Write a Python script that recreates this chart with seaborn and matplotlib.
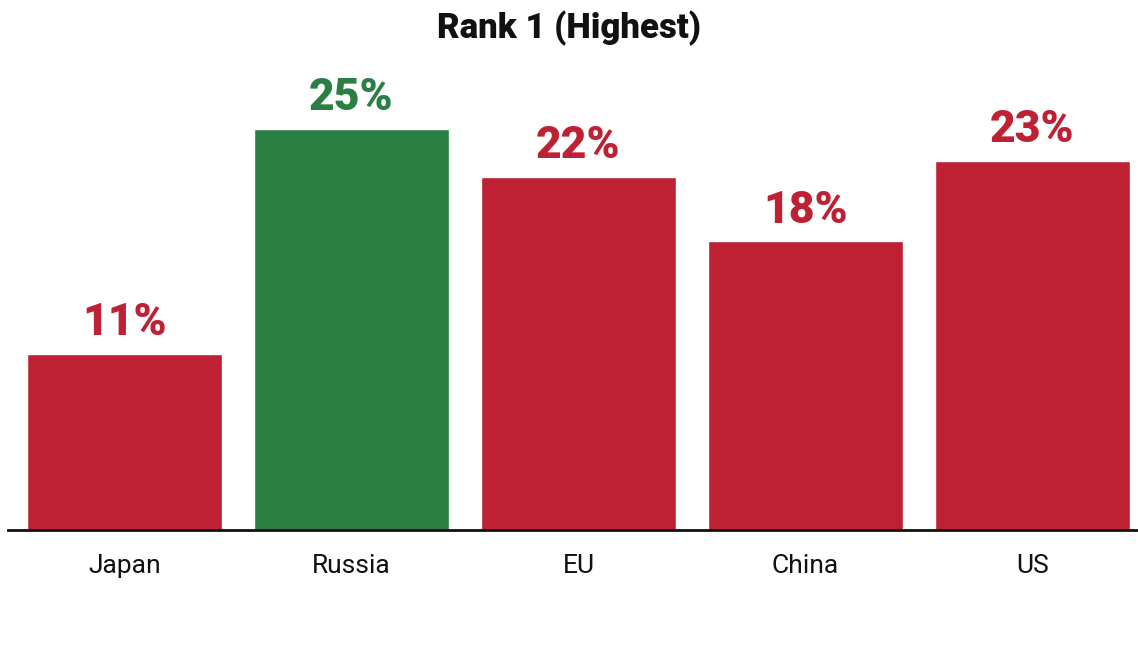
import matplotlib
matplotlib.use("Agg")
import matplotlib.pyplot as plt
import seaborn as sns
import pandas as pd

# data
countries = ["Japan", "Russia", "EU", "China", "US"]
shares = [11, 25, 22, 18, 23]
bar_colors = ["#BE2134", "#2A7F43", "#BE2134", "#BE2134", "#BE2134"]

df = pd.DataFrame({"country": countries, "share": shares})

sns.set_theme(style="white")
plt.rcParams["font.family"] = ["Roboto", "DejaVu Sans"]

fig = plt.figure(figsize=(11.38, 6.51), dpi=100)
ax = fig.add_axes([8 / 1138, 121 / 651, 1130 / 1138, 449 / 651])

sns.barplot(data=df, x="country", y="share", hue="country",
            palette=bar_colors, width=0.86, saturation=1,
            legend=False, ax=ax)

ax.set_xlim(-0.513, 4.465)
ax.set_ylim(0, 28)

#--value labels above bars
for i, (v, c) in enumerate(zip(shares, bar_colors)):
    ax.annotate(f"{v}%", (i, v), xytext=(0, 7), textcoords="offset points",
                ha="center", va="bottom", fontsize=32, fontweight="black",
                color=c)

ax.set_title("Rank 1 (Highest)", fontsize=25, fontweight="black",
             color="#111111", y=1.0, pad=0)
ax.title.set_position((0.5, (651 - 28) / 651))
ax.title.set_transform(fig.transFigure)
ax.title.set_va("center")

ax.set_xlabel("")
ax.set_ylabel("")
ax.set_yticks([])
ax.tick_params(axis="x", length=0, pad=17, labelsize=19, labelcolor="#111111")
for s in ["top", "right", "left"]:
    ax.spines[s].set_visible(False)
ax.spines["bottom"].set_color("#111111")
ax.spines["bottom"].set_linewidth(2)

fig.savefig("out.png", dpi=100)
